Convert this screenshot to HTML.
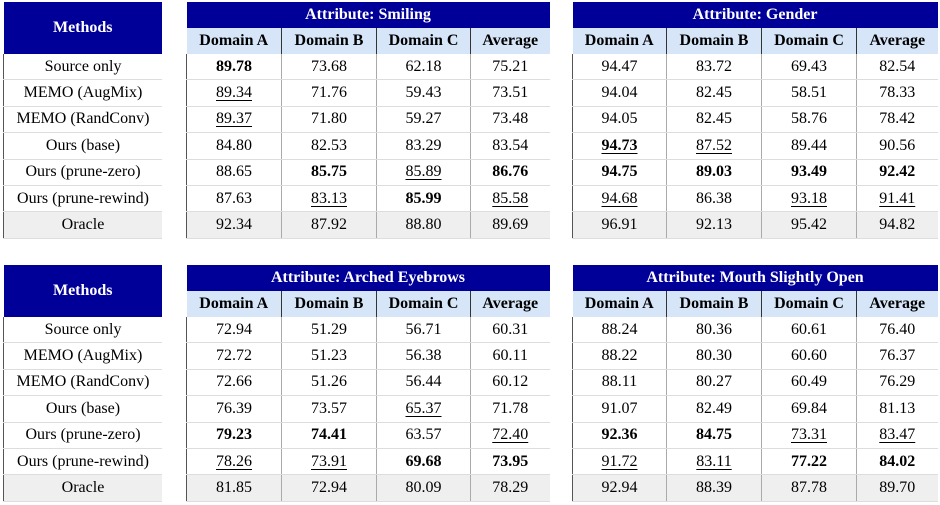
<!DOCTYPE html>
<html><head><meta charset="utf-8"><style>
body{margin:0;width:940px;height:505px;background:#fff;position:relative;overflow:hidden;font-family:"Liberation Serif",serif;font-size:16px;color:#000}
table{position:absolute;border-collapse:collapse;table-layout:fixed}
td,th{padding:0;text-align:center;height:25.4px;line-height:18px;border-bottom:1px solid #ddd;border-left:1px solid #aaa;white-space:nowrap}
th.t{background:#000099;color:#fff;font-weight:bold;height:26px;border:none}
th.d{background:#d6e6f8;font-weight:bold;height:26px;border-left:1px solid #333;border-bottom:none}
th.d:first-child{border-left:none}
tr.o td{background:#efefef}
td:first-child{border-left:1px solid #555}
.b{font-weight:bold}.u{text-decoration:underline;text-underline-offset:3px}
</style></head><body>
<table style="left:3px;top:2px;width:159px">
<tr><th class="t" style="height:52px">Methods</th></tr>
<tr><td>Source only</td></tr><tr><td>MEMO (AugMix)</td></tr><tr><td>MEMO (RandConv)</td></tr><tr><td>Ours (base)</td></tr><tr><td>Ours (prune-zero)</td></tr><tr><td>Ours (prune-rewind)</td></tr><tr class="o"><td>Oracle</td></tr></table>
<table style="left:186px;top:2px;width:363px">
<colgroup><col style="width:95px"><col style="width:95px"><col style="width:94px"><col style="width:79px"></colgroup>
<tr><th class="t" colspan="4">Attribute: Smiling</th></tr>
<tr><th class="d">Domain A</th><th class="d">Domain B</th><th class="d">Domain C</th><th class="d">Average</th></tr>
<tr><td class="b">89.78</td><td>73.68</td><td>62.18</td><td>75.21</td></tr>
<tr><td class="u">89.34</td><td>71.76</td><td>59.43</td><td>73.51</td></tr>
<tr><td class="u">89.37</td><td>71.80</td><td>59.27</td><td>73.48</td></tr>
<tr><td>84.80</td><td>82.53</td><td>83.29</td><td>83.54</td></tr>
<tr><td>88.65</td><td class="b">85.75</td><td class="u">85.89</td><td class="b">86.76</td></tr>
<tr><td>87.63</td><td class="u">83.13</td><td class="b">85.99</td><td class="u">85.58</td></tr>
<tr class="o"><td>92.34</td><td>87.92</td><td>88.80</td><td>89.69</td></tr></table>
<table style="left:572px;top:2px;width:365px">
<colgroup><col style="width:94px"><col style="width:95px"><col style="width:95px"><col style="width:81px"></colgroup>
<tr><th class="t" colspan="4">Attribute: Gender</th></tr>
<tr><th class="d">Domain A</th><th class="d">Domain B</th><th class="d">Domain C</th><th class="d">Average</th></tr>
<tr><td>94.47</td><td>83.72</td><td>69.43</td><td>82.54</td></tr>
<tr><td>94.04</td><td>82.45</td><td>58.51</td><td>78.33</td></tr>
<tr><td>94.05</td><td>82.45</td><td>58.76</td><td>78.42</td></tr>
<tr><td class="b u">94.73</td><td class="u">87.52</td><td>89.44</td><td>90.56</td></tr>
<tr><td class="b">94.75</td><td class="b">89.03</td><td class="b">93.49</td><td class="b">92.42</td></tr>
<tr><td class="u">94.68</td><td>86.38</td><td class="u">93.18</td><td class="u">91.41</td></tr>
<tr class="o"><td>96.91</td><td>92.13</td><td>95.42</td><td>94.82</td></tr></table>
<table style="left:3px;top:265px;width:159px">
<tr><th class="t" style="height:52px">Methods</th></tr>
<tr><td>Source only</td></tr><tr><td>MEMO (AugMix)</td></tr><tr><td>MEMO (RandConv)</td></tr><tr><td>Ours (base)</td></tr><tr><td>Ours (prune-zero)</td></tr><tr><td>Ours (prune-rewind)</td></tr><tr class="o"><td>Oracle</td></tr></table>
<table style="left:186px;top:265px;width:363px">
<colgroup><col style="width:95px"><col style="width:95px"><col style="width:94px"><col style="width:79px"></colgroup>
<tr><th class="t" colspan="4">Attribute: Arched Eyebrows</th></tr>
<tr><th class="d">Domain A</th><th class="d">Domain B</th><th class="d">Domain C</th><th class="d">Average</th></tr>
<tr><td>72.94</td><td>51.29</td><td>56.71</td><td>60.31</td></tr>
<tr><td>72.72</td><td>51.23</td><td>56.38</td><td>60.11</td></tr>
<tr><td>72.66</td><td>51.26</td><td>56.44</td><td>60.12</td></tr>
<tr><td>76.39</td><td>73.57</td><td class="u">65.37</td><td>71.78</td></tr>
<tr><td class="b">79.23</td><td class="b">74.41</td><td>63.57</td><td class="u">72.40</td></tr>
<tr><td class="u">78.26</td><td class="u">73.91</td><td class="b">69.68</td><td class="b">73.95</td></tr>
<tr class="o"><td>81.85</td><td>72.94</td><td>80.09</td><td>78.29</td></tr></table>
<table style="left:572px;top:265px;width:365px">
<colgroup><col style="width:94px"><col style="width:95px"><col style="width:95px"><col style="width:81px"></colgroup>
<tr><th class="t" colspan="4">Attribute: Mouth Slightly Open</th></tr>
<tr><th class="d">Domain A</th><th class="d">Domain B</th><th class="d">Domain C</th><th class="d">Average</th></tr>
<tr><td>88.24</td><td>80.36</td><td>60.61</td><td>76.40</td></tr>
<tr><td>88.22</td><td>80.30</td><td>60.60</td><td>76.37</td></tr>
<tr><td>88.11</td><td>80.27</td><td>60.49</td><td>76.29</td></tr>
<tr><td>91.07</td><td>82.49</td><td>69.84</td><td>81.13</td></tr>
<tr><td class="b">92.36</td><td class="b">84.75</td><td class="u">73.31</td><td class="u">83.47</td></tr>
<tr><td class="u">91.72</td><td class="u">83.11</td><td class="b">77.22</td><td class="b">84.02</td></tr>
<tr class="o"><td>92.94</td><td>88.39</td><td>87.78</td><td>89.70</td></tr></table>
</body></html>
